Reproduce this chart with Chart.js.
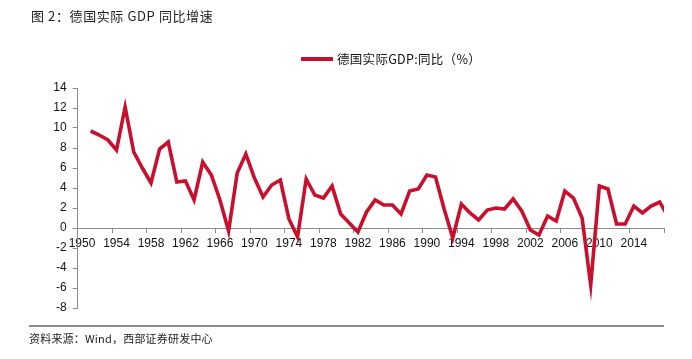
<!DOCTYPE html>
<html>
<head>
<meta charset="utf-8">
<script src="https://cdn.jsdelivr.net/npm/chart.js@4/dist/chart.umd.min.js"></script>
<style>
  html, body { margin: 0; padding: 0; background: #fff; }
  #wrap { position: relative; width: 692px; height: 359px; overflow: hidden; }
  #c { position: absolute; left: 0; top: 0; }
  .title { position: absolute; left: 31px; top: 6px; font: 13px "Noto Sans CJK SC", sans-serif; color: #222; white-space: nowrap; letter-spacing: 0.6px; }
  .legend { position: absolute; left: 301px; top: 50px; height: 18px; white-space: nowrap; }
  .legend .ln { position: absolute; left: 0; top: 7px; width: 32px; height: 4px; background: #C8102E; }
  .legend .tx { position: absolute; left: 36px; top: 0; font: 12.5px "Noto Sans CJK SC", "Liberation Sans", sans-serif; color: #111; line-height: 18px; letter-spacing: 0.3px; }
  .rule { position: absolute; left: 29px; top: 325px; width: 635px; height: 2px; background: #8c8c8c; }
  .foot { position: absolute; left: 29px; top: 330px; font: 11px "Noto Sans CJK SC", sans-serif; color: #222; white-space: nowrap; letter-spacing: 0.2px; }
</style>
</head>
<body>
<div id="wrap">
  <canvas id="c" width="692" height="359"></canvas>
  <div class="title">图 2：德国实际 GDP 同比增速</div>
  <div class="legend"><span class="ln"></span><span class="tx">德国实际GDP:同比（%）</span></div>
  <div class="rule"></div>
  <div class="foot">资料来源：Wind，西部证券研发中心</div>
</div>
<script>
// Years (categories) and German real GDP YoY growth (%)
const years = [1951,1952,1953,1954,1955,1956,1957,1958,1959,1960,
               1961,1962,1963,1964,1965,1966,1967,1968,1969,1970,
               1971,1972,1973,1974,1975,1976,1977,1978,1979,1980,
               1981,1982,1983,1984,1985,1986,1987,1988,1989,1990,
               1991,1992,1993,1994,1995,1996,1997,1998,1999,2000,
               2001,2002,2003,2004,2005,2006,2007,2008,2009,2010,
               2011,2012,2013,2014,2015,2016,2017,2018];
const gdpYoY = [9.7,9.3,8.8,7.8,12.1,7.6,6.0,4.5,7.9,8.6,
                4.6,4.7,2.8,6.6,5.3,2.8,-0.3,5.5,7.4,5.0,
                3.1,4.3,4.8,0.9,-0.9,4.9,3.3,3.0,4.2,1.4,
                0.5,-0.4,1.6,2.8,2.3,2.3,1.4,3.7,3.9,5.3,
                5.1,1.9,-1.0,2.4,1.5,0.8,1.8,2.0,1.9,2.9,
                1.7,-0.2,-0.7,1.2,0.7,3.7,3.0,1.0,-5.7,4.2,
                3.9,0.4,0.4,2.2,1.5,2.2,2.6,1.1];
const xTickLabels = ['1950','1954','1958','1962','1966','1970','1974','1978','1982',
                     '1986','1990','1994','1998','2002','2006','2010','2014'];
const yTicks = [-8,-6,-4,-2,0,2,4,6,8,10,12,14];

const points = years.map((y, i) => ({ x: y, y: gdpYoY[i] }));
const axisColor = '#8c8c8c';
const tickFont = { family: '"Liberation Sans", Arial, sans-serif', size: 12 };

new Chart(document.getElementById('c'), {
  type: 'line',
  data: {
    datasets: [{
      label: '德国实际GDP:同比（%）',
      data: points,
      borderColor: '#C8102E',
      borderWidth: 3.6,
      pointRadius: 0,
      tension: 0,
      fill: false
    }]
  },
  options: {
    responsive: false,
    animation: false,
    devicePixelRatio: 1,
    layout: { padding: { left: 0, top: 88, right: 28, bottom: 51 } },
    plugins: { legend: { display: false }, title: { display: false }, tooltip: { enabled: false } },
    scales: {
      x: {
        type: 'linear',
        min: 1949.5,
        max: 2017.5,
        position: { y: 0 },
        afterFit: (s) => { s.height = 0; },
        afterBuildTicks: (s) => {
          s.ticks = xTickLabels.map((l) => ({ value: Number(l) - 0.5 })).concat([{ value: 2017.5 }]);
        },
        grid: { display: true, drawOnChartArea: false, drawTicks: true, tickLength: 4, color: axisColor },
        border: { display: true, color: axisColor, width: 1 },
        ticks: {
          autoSkip: false, maxRotation: 0, padding: 4,
          labelOffset: 4.3,
          color: '#111', font: tickFont,
          callback: (v) => { const y = String(Math.round(v + 0.5)); return xTickLabels.includes(y) ? y : ''; }
        }
      },
      y: {
        min: -8, max: 14,
        afterFit: (s) => { s.width = 77.7; },
        afterBuildTicks: (s) => { s.ticks = yTicks.map((v) => ({ value: v })); },
        grid: { display: true, drawOnChartArea: false, drawTicks: true, tickLength: 5, color: axisColor },
        border: { display: true, color: axisColor, width: 1 },
        ticks: { padding: 6, color: '#111', font: tickFont }
      }
    }
  }
});
</script>
</body>
</html>
